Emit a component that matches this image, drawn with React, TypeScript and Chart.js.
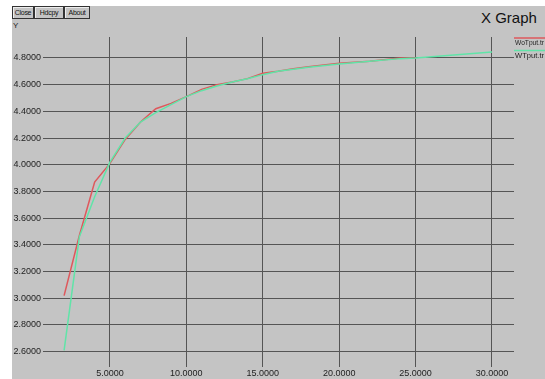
import React, { useEffect, useRef } from "react";
import { Chart, registerables } from "chart.js";

Chart.register(...registerables);

const redLabel = "WoTput.tr";
const greenLabel = "WTput.tr";
const redX = [2, 3, 4, 5, 6, 7, 8, 9, 10, 11, 12, 13, 14, 15, 16, 17, 18, 20, 22, 24, 25];
const redY = [3.02, 3.47, 3.87, 4.01, 4.19, 4.32, 4.42, 4.46, 4.51, 4.565, 4.6, 4.62, 4.645, 4.685, 4.7, 4.72, 4.735, 4.76, 4.775, 4.8, 4.8];
const greenX = [2, 3, 4, 5, 6, 7, 8, 9, 10, 11, 12, 13, 14, 15, 16, 17, 18, 20, 22, 24, 25, 30];
const greenY = [2.61, 3.46, 3.76, 4.02, 4.2, 4.32, 4.39, 4.45, 4.51, 4.555, 4.59, 4.62, 4.645, 4.675, 4.7, 4.715, 4.73, 4.755, 4.775, 4.795, 4.8, 4.845];
const xTicks = [5, 10, 15, 20, 25, 30];
const yTicks = [2.6, 2.8, 3.0, 3.2, 3.4, 3.6, 3.8, 4.0, 4.2, 4.4, 4.6, 4.8];

const RED = "rgb(222,88,92)";
const GREEN = "rgb(96,228,168)";
const GRID = "rgb(85,85,85)";
const FONT = "'Liberation Sans', Arial, sans-serif";

const legendPlugin = {
  id: "xgLegend",
  afterDraw(chart: any) {
    const ctx = chart.ctx;
    ctx.save();
    chart.data.datasets.forEach((ds: any, i: number) => {
      const y = 38 + i * 12.5;
      ctx.strokeStyle = ds.borderColor;
      ctx.lineWidth = 1.5;
      ctx.beginPath();
      ctx.moveTo(514, y);
      ctx.lineTo(545, y);
      ctx.stroke();
      ctx.fillStyle = "#222";
      ctx.font = `8px ${FONT}`;
      ctx.textBaseline = "middle";
      ctx.textAlign = "left";
      ctx.fillText(ds.label, 515, y + 5, 29);
    });
    ctx.restore();
  },
};

function App() {
  const ref = useRef<HTMLCanvasElement | null>(null);
  useEffect(() => {
    document.body.style.margin = "0";
    const c = ref.current!;
    const chart = new Chart(c, {
      type: "line",
      data: {
        datasets: [
          {
            label: redLabel,
            data: redX.map((x, i) => ({ x, y: redY[i] })),
            borderColor: RED,
            borderWidth: 1.5,
            pointRadius: 0,
            tension: 0,
            order: 2,
          },
          {
            label: greenLabel,
            data: greenX.map((x, i) => ({ x, y: greenY[i] })),
            borderColor: GREEN,
            borderWidth: 1.5,
            pointRadius: 0,
            tension: 0,
            order: 1,
          },
        ],
      },
      options: {
        responsive: false,
        animation: false,
        layout: { padding: { top: 37, right: 31, left: 0, bottom: 0 } },
        plugins: { legend: { display: false }, tooltip: { enabled: false }, title: { display: false } },
        scales: {
          x: {
            type: "linear",
            min: 0.62,
            max: 31.44,
            afterBuildTicks: (s: any) => {
              s.ticks = xTicks.map((v) => ({ value: v }));
            },
            afterFit: (s: any) => {
              s.height = 12;
            },
            grid: { color: GRID, lineWidth: 1, drawTicks: false },
            border: { display: false },
            ticks: {
              padding: 1,
              maxRotation: 0,
              autoSkip: false,
              color: "#222",
              font: { family: FONT, size: 9 },
              callback: (v: any) => Number(v).toFixed(4),
            },
          },
          y: {
            type: "linear",
            min: 2.485,
            max: 4.957,
            afterBuildTicks: (s: any) => {
              s.ticks = yTicks.map((v) => ({ value: v }));
            },
            afterFit: (s: any) => {
              s.width = 43;
            },
            grid: { color: GRID, lineWidth: 1, drawTicks: false },
            border: { display: false },
            ticks: {
              padding: 2,
              autoSkip: false,
              color: "#222",
              font: { family: FONT, size: 9 },
              callback: (v: any) => Number(v).toFixed(4),
            },
          },
        },
      },
      plugins: [legendPlugin],
    });
    return () => chart.destroy();
  }, []);

  const btn = (left: number, width: number, text: string) => (
    <div
      style={{
        position: "absolute",
        left,
        top: 6,
        width,
        height: 11,
        border: "1px solid #333",
        boxShadow: "inset 1px 1px 0 #eee",
        fontFamily: FONT,
        fontSize: 7,
        letterSpacing: "-0.3px",
        lineHeight: "11px",
        textAlign: "center",
        color: "#111",
        boxSizing: "content-box",
        overflow: "hidden",
        whiteSpace: "nowrap",
      }}
    >
      {text}
    </div>
  );

  return (
    <div style={{ position: "relative", width: 545, height: 379, background: "#fff", overflow: "hidden" }}>
      <div style={{ position: "absolute", left: 12, top: 6, width: 533, height: 373, background: "rgb(196,196,196)" }} />
      {btn(12, 20, "Close")}
      {btn(34, 28, "Hdcpy")}
      {btn(64, 24, "About")}
      <div style={{ position: "absolute", left: 13, top: 21, fontFamily: FONT, fontSize: 8, color: "#222" }}>Y</div>
      <div style={{ position: "absolute", left: 481, top: 9, fontFamily: FONT, fontSize: 15, color: "#111" }}>X Graph</div>
      <canvas ref={ref} width={545} height={379} style={{ position: "absolute", left: 0, top: 0 }} />
    </div>
  );
}

export default App;
